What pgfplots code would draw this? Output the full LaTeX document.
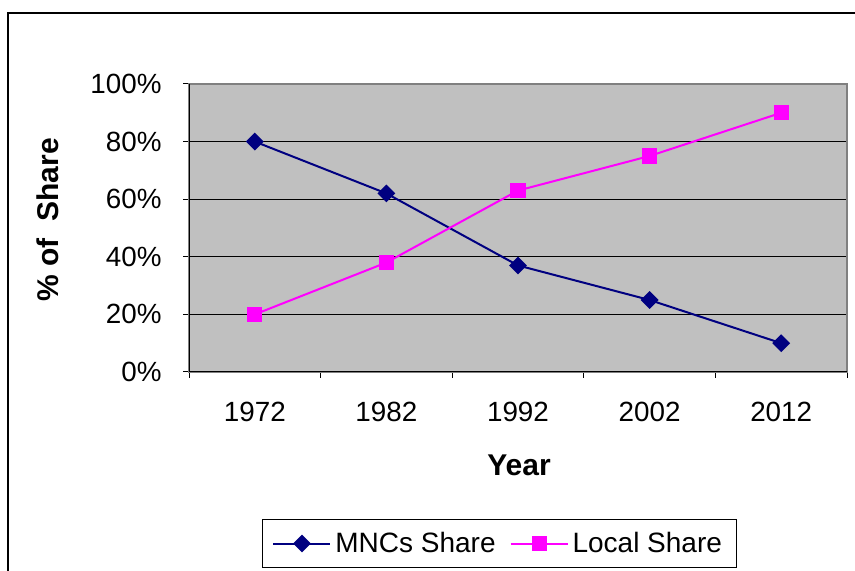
\documentclass[border=0pt]{standalone}
\usepackage{pgfplots}
\pgfplotsset{compat=1.18}
\usepackage{fontspec}
\setmainfont{Liberation Sans}
\definecolor{plotgray}{RGB}{192,192,192}
\definecolor{bordergray}{RGB}{128,128,128}
\definecolor{mncblue}{RGB}{0,0,128}
\definecolor{localpink}{RGB}{255,0,255}
\begin{document}
\begin{tikzpicture}
\useasboundingbox (0,0) rectangle (427.5pt,285.5pt);
\draw[line width=0.7pt] (4pt,-2pt) -- (4pt,279pt) -- (430pt,279pt);
\begin{axis}[
  at={(94.5pt,99.5pt)}, anchor=south west,
  scale only axis, width=329pt, height=144pt,
  xmin=-0.5, xmax=4.5, ymin=0, ymax=100,
  xtick={-0.5,0.5,1.5,2.5,3.5,4.5},
  x tick label as interval=true,
  xticklabels={1972,1982,1992,2002,2012},
  ytick={0,20,40,60,80,100},
  yticklabels={0\%,20\%,40\%,60\%,80\%,100\%},
  xtick pos=bottom, ytick pos=left,
  tick align=outside, major tick length=3pt,
  tick style={black, line width=0.5pt},
  /pgf/number format/assume math mode=true,
  tick label style={font=\fontsize{13.9}{16}\selectfont},
  yticklabel style={inner sep=0pt, anchor=east, xshift=-10.5pt},
  xticklabel style={inner sep=0pt, anchor=north, yshift=-12pt},
  axis background/.style={fill=plotgray},
  axis line style={bordergray, line width=0.7pt},
  ymajorgrids, grid style={black, line width=0.5pt},
  xlabel={\textbf{Year}},
  ylabel={\textbf{\%\ of\ \ Share}},
  label style={font=\fontsize{15}{18}\selectfont},
  xlabel style={at={(axis description cs:0.5015,-0.361)}, anchor=base},
  ylabel style={at={(axis description cs:-0.2143,0.528)}, anchor=center},
  legend columns=2,
  legend style={at={(0.4715,-0.5955)}, anchor=center, draw=black, line width=0.5pt,
    font=\fontsize{14}{16}\selectfont, inner xsep=5pt, inner ysep=4pt,
    /tikz/every even column/.append style={column sep=5pt}},
  legend image code/.code={\draw[mark repeat=2,mark phase=2] plot coordinates {(0cm,0cm) (0.5cm,0cm) (1cm,0cm)};},
]
\addplot[mncblue, line width=1pt, mark=square*, mark size=2.65pt, mark options={rotate=45, solid, fill=mncblue}]
  coordinates {(0,80) (1,62) (2,37) (3,25) (4,10)};
\addlegendentry{MNCs Share}
\addplot[localpink, line width=1pt, mark=square*, mark size=3.3pt, mark options={solid, fill=localpink}]
  coordinates {(0,20) (1,38) (2,63) (3,75) (4,90)};
\addlegendentry{Local Share}
\draw[black, line width=0.7pt] (rel axis cs:0,1) -- (rel axis cs:0,0) -- (rel axis cs:1,0);
\end{axis}
\end{tikzpicture}
\end{document}
